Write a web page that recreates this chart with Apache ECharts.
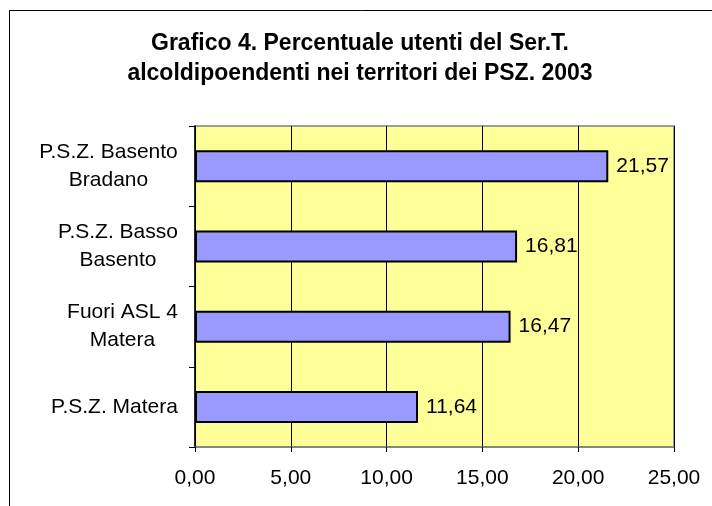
<!DOCTYPE html>
<html>
<head>
<meta charset="utf-8">
<script src="https://cdn.jsdelivr.net/npm/echarts@6/dist/echarts.min.js"></script>
<style>
  html, body { margin: 0; padding: 0; background: #fff; }
  #chart { width: 712px; height: 506px; }
</style>
</head>
<body>
<div id="chart"></div>
<script>
  // dati
  var categorie = ['P.S.Z. Basento\nBradano', 'P.S.Z. Basso\nBasento', 'Fuori ASL 4\nMatera', 'P.S.Z. Matera'];
  var percentuali = [21.57, 16.81, 16.47, 11.64];
  var xMin = 0, xMax = 25, xPasso = 5;

  var FONT = '"Liberation Sans", Arial, sans-serif';
  var FS = 21;

  function virgola(v, dec) {
    return Number(v).toFixed(dec).replace('.', ',');
  }

  // etichette asse y: righe centrate fra loro, blocco allineato a destra
  var ctx = document.createElement('canvas').getContext('2d');
  ctx.font = FS + 'px ' + FONT;
  var rich = {};
  categorie.forEach(function (c, i) {
    var w = 0;
    c.split('\n').forEach(function (r) { w = Math.max(w, ctx.measureText(r).width); });
    rich['c' + i] = { width: Math.ceil(w), align: 'center', fontSize: FS, lineHeight: 28, color: '#000', fontFamily: FONT };
  });

  var chart = echarts.init(document.getElementById('chart'));
  chart.setOption({
    animation: false,
    backgroundColor: '#fff',
    textStyle: { fontFamily: FONT },
    graphic: [{
      type: 'rect',
      shape: { x: 9.5, y: 10.5, width: 800, height: 600 },
      style: { fill: 'none', stroke: '#000', lineWidth: 1 },
      silent: true
    }],
    title: {
      text: 'Grafico 4. Percentuale utenti del Ser.T.\nalcoldipoendenti nei territori dei PSZ. 2003',
      left: 355,
      top: 24,
      textAlign: 'center',
      textStyle: { fontSize: 23, fontWeight: 'bold', color: '#000', lineHeight: 30, fontFamily: FONT }
    },
    grid: {
      left: 195, right: 38, top: 126, bottom: 59,
      show: true,
      backgroundColor: '#FFFF99',
      borderColor: '#808080',
      borderWidth: 1.5
    },
    xAxis: {
      type: 'value',
      min: xMin, max: xMax, interval: xPasso,
      axisLine: { show: true, lineStyle: { color: '#808080', width: 1.5 } },
      axisTick: { show: true, length: 5, lineStyle: { color: '#000' } },
      splitLine: { show: true, lineStyle: { color: '#000', width: 1 } },
      axisLabel: {
        margin: 21, fontSize: FS, color: '#000', fontFamily: FONT,
        formatter: function (v) { return virgola(v, 2); }
      }
    },
    yAxis: {
      type: 'category',
      inverse: true,
      data: categorie,
      axisLine: { show: true, lineStyle: { color: '#000', width: 1.5 } },
      axisTick: { show: true, length: 6, lineStyle: { color: '#000' } },
      axisLabel: {
        margin: 17,
        align: 'right',
        rich: rich,
        formatter: function (v, i) {
          return v.split('\n').map(function (r) { return '{c' + i + '|' + r + '}'; }).join('\n');
        }
      }
    },
    series: [{
      type: 'bar',
      data: percentuali,
      barWidth: 32,
      itemStyle: { color: '#9999FF', borderColor: '#000', borderWidth: 2 },
      label: {
        show: true,
        position: 'right',
        distance: 8,
        fontSize: FS,
        color: '#000',
        fontFamily: FONT,
        formatter: function (p) { return virgola(p.value, 2); }
      }
    }]
  });
</script>
</body>
</html>
